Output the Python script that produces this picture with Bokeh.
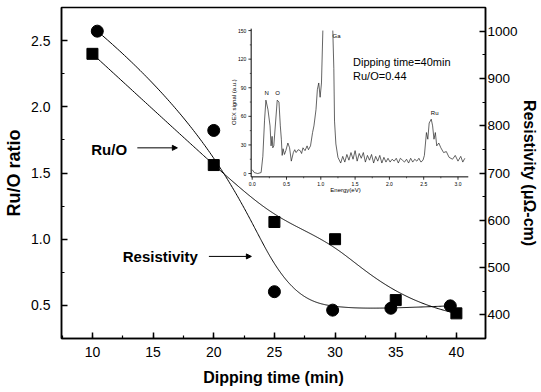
import numpy as np
from bokeh.plotting import figure
from bokeh.models import (Range1d, LinearAxis, SingleIntervalTicker, PrintfTickFormatter,
                          Arrow, NormalHead, Label)
from bokeh.core.properties import value
from bokeh.embed import file_html
from bokeh.resources import INLINE

# ---------------- data ----------------
dipping_time_ruo = [10, 20, 25, 30, 35, 40]
ruo_ratio = [2.40, 1.56, 1.13, 1.00, 0.54, 0.44]

dipping_time_res = [10.4, 20.0, 25.0, 29.8, 34.6, 39.5]
resistivity = [1000, 790, 449, 410, 414, 419]

nan = float("nan")
# inset OES spectrum
inset_energy = [0.00, 0.03, 0.08, 0.13, 0.155, 0.18, 0.20, 0.23, 0.26, 0.275, 0.29, 0.30, 0.315,
                0.34, 0.365, 0.39, 0.41, 0.425, 0.437, 0.45, 0.47, 0.49, 0.52, 0.545, 0.57, 0.60,
                0.62, 0.64, 0.67, 0.70, 0.72, 0.74, 0.77, 0.80, 0.82, 0.85, 0.88, 0.90, 0.93, 0.95,
                0.97, 0.99, 1.01, 1.03, nan, 1.175, 1.19, 1.20, 1.22, 1.25, 1.29,
                1.32, 1.35, 1.38, 1.41, 1.44, 1.47, 1.50, 1.53, 1.56, 1.59, 1.62, 1.65, 1.68, 1.71,
                1.74, 1.77, 1.80, 1.83, 1.86, 1.89, 1.92, 1.95, 1.98, 2.01, 2.04, 2.07, 2.10, 2.13,
                2.16, 2.19, 2.22, 2.25, 2.28, 2.31, 2.34, 2.37, 2.40, 2.43, 2.46, 2.49,
                2.51, 2.54, 2.56, 2.58, 2.61, 2.63, 2.65, 2.67, 2.69, 2.72, 2.75, 2.79, 2.83, 2.87,
                2.92, 2.96, 3.00, 3.04, 3.07, 3.10]
inset_signal = [4, 1, 0, 1, 18, 56, 77, 67, 50, 29, 39, 27, 29,
                53, 77, 75, 50, 36, 19, 26, 20, 24, 32, 27, 13, 22,
                25, 22, 25, 24, 21, 27, 24, 29, 25, 29, 43, 50, 67, 88,
                95, 80, 95, 150, nan, 150, 110, 55, 31, 17, 11,
                18, 12, 20, 14, 22, 15, 24, 13, 21, 16, 22, 12, 19, 14,
                20, 11, 18, 13, 19, 11, 17, 12, 16, 12, 15, 13, 16, 11,
                16, 14, 12, 15, 11, 16, 12, 15, 13, 16, 12, 14,
                19, 43, 36, 53, 57, 50, 36, 43, 29, 32, 27, 22, 23, 17,
                15, 19, 13, 18, 12, 16]

inset_x_ticks = [0.0, 0.5, 1.0, 1.5, 2.0, 2.5, 3.0]
inset_y_ticks = [0, 30, 60, 90, 120, 150]
inset_peaks = ["N", "O", "Ga", "Ru"]
inset_peak_energy = [0.21, 0.37, 1.23, 2.66]
inset_peak_signal = [85, 85, 144, 64]

# ---------------- geometry / style constants ----------------
FONT = "Liberation Sans"
X_RANGE = (7.45, 42.4)
Y_RANGE = (0.25, 2.75)
RES_RANGE = (350, 1050)
INSET_X_RANGE = (-2.78, 3.401)
INSET_Y_RANGE = (-173.1, 174.2)
INSET_E0, INSET_E1 = -0.015, 3.15
INSET_S0, INSET_S1 = -3.5, 152


def bspline(xs, ys, n=400, k=3):
    P = np.column_stack([xs, ys]).astype(float)
    m = len(P)
    inner = np.linspace(0, 1, m - k + 1)
    knots = np.concatenate([[0.0] * k, inner, [1.0] * k])
    t = np.linspace(0, 1, n)
    t[-1] = 1 - 1e-12

    def N(i, p, tt):
        if p == 0:
            return np.where((knots[i] <= tt) & (tt < knots[i + 1]), 1.0, 0.0)
        d1 = knots[i + p] - knots[i]
        d2 = knots[i + p + 1] - knots[i + 1]
        left = (tt - knots[i]) / d1 * N(i, p - 1, tt) if d1 > 0 else 0.0
        right = (knots[i + p + 1] - tt) / d2 * N(i + 1, p - 1, tt) if d2 > 0 else 0.0
        return left + right

    B = np.array([N(i, k, t) for i in range(m)])
    c = B.T @ P
    return c[:, 0], c[:, 1]


p = figure(frame_width=424, frame_height=331, x_range=Range1d(*X_RANGE), y_range=Range1d(*Y_RANGE),
           output_backend="svg", toolbar_location=None,
           min_border_left=61, min_border_right=50, min_border_top=7, min_border_bottom=46)
p.extra_y_ranges = {"res": Range1d(*RES_RANGE), "ey": Range1d(*INSET_Y_RANGE)}
p.extra_x_ranges = {"ex": Range1d(*INSET_X_RANGE)}
p.grid.visible = False
p.outline_line_color = "black"
p.outline_line_width = 1.5
p.background_fill_color = "white"
p.border_fill_color = "white"

p.xaxis.ticker = SingleIntervalTicker(interval=5, num_minor_ticks=2)
p.yaxis.ticker = SingleIntervalTicker(interval=0.5, num_minor_ticks=2)
p.yaxis.formatter = PrintfTickFormatter(format="%.1f")
p.xaxis.axis_label = "Dipping time (min)"
p.yaxis.axis_label = "Ru/O ratio"

right = LinearAxis(y_range_name="res", ticker=SingleIntervalTicker(interval=100, num_minor_ticks=2),
                   axis_label="Resistivity (μΩ-cm)")
p.add_layout(right, "right")

for ax in [p.xaxis[0], p.yaxis[0], right]:
    ax.axis_line_width = 1.5
    ax.axis_line_color = "black"
    ax.major_tick_in = 6
    ax.major_tick_out = 0
    ax.minor_tick_in = 3
    ax.minor_tick_out = 0
    ax.major_tick_line_width = 1.5
    ax.minor_tick_line_width = 1.2
    ax.major_tick_line_color = "black"
    ax.minor_tick_line_color = "black"
    ax.major_label_text_font = FONT
    ax.major_label_text_font_size = "14px"
    ax.major_label_text_color = "black"
    ax.axis_label_text_font = FONT
    ax.axis_label_text_font_style = "bold"
    ax.axis_label_text_font_size = "16px"
    ax.axis_label_text_color = "black"

p.xaxis.major_label_standoff = 8
p.xaxis.axis_label_standoff = 9
p.yaxis.major_label_standoff = 11
p.yaxis.axis_label_standoff = 4
right.major_label_standoff = 2
right.axis_label_standoff = 0
right.major_label_text_font_size = "13.5px"
p.yaxis.axis_label_text_font_size = "18px"
right.axis_label_text_font_size = "16px"

# curves (B-spline through data control points)
rx, ry = bspline(dipping_time_ruo, ruo_ratio)
p.line(rx, ry, line_color="black", line_width=1)
cx, cy = bspline(dipping_time_res, resistivity)
p.line(cx, cy, line_color="black", line_width=1, y_range_name="res")

p.scatter(dipping_time_ruo, ruo_ratio, marker="square", size=11, color="black")
p.scatter(dipping_time_res, resistivity, marker="circle", size=12, color="black", y_range_name="res")

# annotations
p.add_layout(Label(x=9.9, y=1.68, text="Ru/O", text_font=FONT, text_font_style="bold",
                   text_font_size="15px", text_baseline="middle", text_color="black"))
p.add_layout(Arrow(end=NormalHead(size=5, fill_color="black", line_color="black"),
                   x_start=13.7, y_start=1.69, x_end=17.0, y_end=1.69, line_width=1))
p.add_layout(Label(x=12.5, y=0.87, text="Resistivity", text_font=FONT, text_font_style="bold",
                   text_font_size="15px", text_baseline="middle", text_color="black"))
p.add_layout(Arrow(end=NormalHead(size=5, fill_color="black", line_color="black"),
                   x_start=19.6, y_start=0.87, x_end=23.1, y_end=0.87, line_width=1))

# ---------------- inset ----------------
R = dict(x_range_name="ex", y_range_name="ey")
p.line(inset_energy, inset_signal, line_color="#222222", line_width=0.7, **R)
# inset axes
p.segment(x0=[INSET_E0, INSET_E0], y0=[INSET_S0, INSET_S0], x1=[INSET_E0, INSET_E1], y1=[INSET_S1, INSET_S0],
          line_color="black", line_width=1, **R)
yt = np.array(inset_y_ticks, dtype=float)
xt = np.array(inset_x_ticks, dtype=float)
p.segment(x0=[INSET_E0] * len(yt), y0=yt, x1=[INSET_E0 - 0.04] * len(yt), y1=yt, line_color="black", line_width=0.8, **R)
ym = (yt[:-1] + yt[1:]) / 2
p.segment(x0=[INSET_E0] * len(ym), y0=ym, x1=[INSET_E0 - 0.02] * len(ym), y1=ym, line_color="black", line_width=0.6, **R)
p.segment(x0=xt, y0=[INSET_S0] * len(xt), x1=xt, y1=[INSET_S0 - 3] * len(xt), line_color="black", line_width=0.8, **R)
xm = (xt[:-1] + xt[1:]) / 2
p.segment(x0=xm, y0=[INSET_S0] * len(xm), x1=xm, y1=[INSET_S0 - 1.5] * len(xm), line_color="black", line_width=0.6, **R)

p.text(x=[INSET_E0 - 0.07] * len(yt), y=yt, text=[str(int(v)) for v in inset_y_ticks],
       text_font=value(FONT), text_font_size="5px", text_align="right", text_baseline="middle",
       text_color="black", **R)
p.text(x=xt, y=[INSET_S0 - 5] * len(xt), text=["%.1f" % v for v in inset_x_ticks],
       text_font=value(FONT), text_font_size="5px", text_align="center", text_baseline="top",
       text_color="black", **R)
p.text(x=inset_peak_energy, y=inset_peak_signal, text=inset_peaks, text_font=value(FONT),
       text_font_size="6px", text_align="center", text_baseline="middle", text_color="black", **R)

p.add_layout(Label(x=-0.26, y=75, text="OEX signal (a.u.)", angle=90, angle_units="deg",
                   text_font=FONT, text_font_size="6px", text_align="center", text_baseline="middle",
                   text_color="black", **R))
p.add_layout(Label(x=1.36, y=-17, text="Energy(eV)", text_font=FONT, text_font_size="6px",
                   text_align="center", text_baseline="middle", text_color="black", **R))
p.add_layout(Label(x=1.47, y=117.5, text="Dipping time=40min", text_font=FONT, text_font_size="11px",
                   text_baseline="middle", text_color="black", **R))
p.add_layout(Label(x=1.47, y=102, text="Ru/O=0.44", text_font=FONT, text_font_size="11px",
                   text_baseline="middle", text_color="black", **R))

open("out.html", "w").write(file_html(p, INLINE))
